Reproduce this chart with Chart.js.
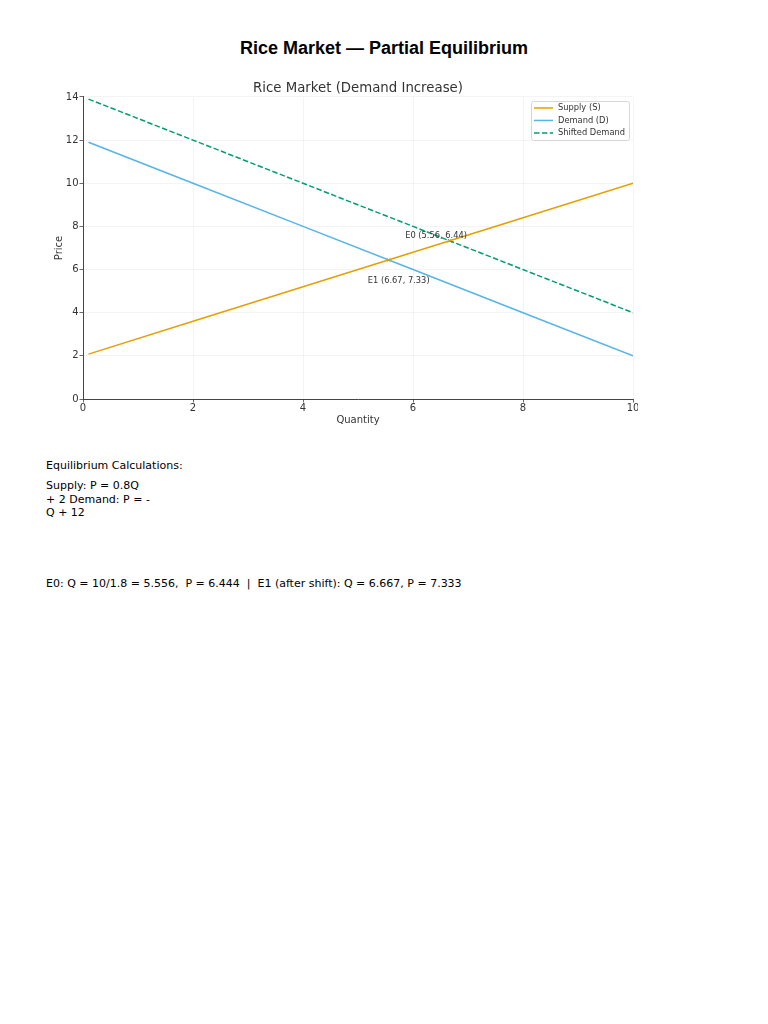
<!DOCTYPE html>
<html>
<head>
<meta charset="utf-8">
<script src="https://cdn.jsdelivr.net/npm/chart.js@4.4.0/dist/chart.umd.min.js"></script>
<style>
  html, body { margin: 0; padding: 0; background: #fff; }
  body { width: 768px; height: 1024px; position: relative; font-family: "DejaVu Sans", sans-serif; }
  #title { position: absolute; left: 0; top: 37px; width: 768px; text-align: center;
           font: bold 18px "Liberation Sans", Arial, sans-serif; color: #000; line-height: 22px; }
  #wrap { position: absolute; left: 40px; top: 70px; width: 598px; height: 365px; }
  .txt { position: absolute; left: 46px; font-size: 11px; color: #000; line-height: 13.5px; white-space: pre; }
</style>
</head>
<body>
<div id="title">Rice Market — Partial Equilibrium</div>
<div id="wrap"><canvas id="c"></canvas></div>
<div class="txt" style="top:459px">Equilibrium Calculations:</div>
<div class="txt" style="top:479px">Supply: P = 0.8Q
+ 2 Demand: P = -
Q + 12</div>
<div class="txt" style="top:577px">E0: Q = 10/1.8 = 5.556,  P = 6.444  |  E1 (after shift): Q = 6.667, P = 7.333</div>

<script>
// ---- data ----
const quantity = [0.1, 2, 4, 6, 8, 10];
const supply   = [2.08, 3.6, 5.2, 6.8, 8.4, 10];
const demand   = [11.9, 10, 8, 6, 4, 2];
const shifted  = [13.9, 12, 10, 8, 6, 4];

const eqQ = [5.556, 6.667];
const eqP = [6.444, 7.333];
const eqLabels = ['E0 (5.56, 6.44)', 'E1 (6.67, 7.33)'];
const eqLabelQ = [6.42, 5.74];
const eqLabelP = [7.56, 5.47];

const xTicks = [0, 2, 4, 6, 8, 10];
const yTicks = [0, 2, 4, 6, 8, 10, 12, 14];

const seriesNames = ['Supply (S)', 'Demand (D)', 'Shifted Demand'];

const pts = (ys) => quantity.map((q, i) => ({ x: q, y: ys[i] }));

const FONT = '"DejaVu Sans", sans-serif';
const TXT = '#333333';

const annotPlugin = {
  id: 'annot',
  afterDatasetsDraw(chart) {
    const { ctx, scales: { x, y }, chartArea } = chart;
    ctx.save();
    // annotations
    ctx.font = '8.3px ' + FONT;
    ctx.fillStyle = TXT;
    ctx.textAlign = 'center';
    ctx.textBaseline = 'middle';
    eqLabels.forEach((t, i) => {
      ctx.fillText(t, x.getPixelForValue(eqLabelQ[i]), y.getPixelForValue(eqLabelP[i]));
    });
    // legend
    const bw = 98, bh = 39;
    const bx = chartArea.right - 4 - bw, by = chartArea.top + 4;
    ctx.beginPath();
    if (ctx.roundRect) ctx.roundRect(bx + 0.5, by + 0.5, bw, bh, 2); else ctx.rect(bx + 0.5, by + 0.5, bw, bh);
    ctx.fillStyle = 'rgba(255,255,255,0.8)';
    ctx.fill();
    ctx.strokeStyle = '#d6d6d6';
    ctx.lineWidth = 1;
    ctx.stroke();
    ctx.textAlign = 'left';
    const rows = [7, 19.5, 32];
    for (let i = 0; i < 3; i++) {
      const ds = chart.data.datasets[i];
      const ry = by + rows[i];
      ctx.beginPath();
      ctx.setLineDash(ds.borderDash || []);
      ctx.strokeStyle = ds.borderColor;
      ctx.lineWidth = 1.5;
      ctx.moveTo(bx + 3, ry);
      ctx.lineTo(bx + 22, ry);
      ctx.stroke();
      ctx.setLineDash([]);
      ctx.fillStyle = TXT;
      ctx.fillText(ds.label, bx + 27, ry);
    }
    ctx.restore();
  }
};

new Chart(document.getElementById('c'), {
  type: 'line',
  data: {
    datasets: [
      { label: seriesNames[0], data: pts(supply), borderColor: '#E69F00', borderWidth: 1.5, pointRadius: 0, fill: false, tension: 0 },
      { label: seriesNames[1], data: pts(demand), borderColor: '#56B4E9', borderWidth: 1.5, pointRadius: 0, fill: false, tension: 0 },
      { label: seriesNames[2], data: pts(shifted), borderColor: '#009E73', borderDash: [5.5, 2.4], borderWidth: 1.5, pointRadius: 0, fill: false, tension: 0 },
      { label: 'eq', type: 'scatter', data: eqQ.map((q, i) => ({ x: q, y: eqP[i] })),
        pointStyle: 'crossRot', pointRadius: 2.5, borderWidth: 1, borderColor: ['#C9A21A', '#3a9c6e'], backgroundColor: 'transparent', showLine: false }
    ]
  },
  options: {
    responsive: true,
    maintainAspectRatio: false,
    animation: false,
    events: [],
    layout: { padding: { left: 0, right: 5, top: 0, bottom: 0 } },
    plugins: {
      legend: { display: false },
      tooltip: { enabled: false },
      title: {
        display: true, fullSize: false, text: 'Rice Market (Demand Increase)', color: TXT,
        font: { family: FONT, size: 13.3, weight: 'normal' },
        padding: { top: 11, bottom: 0 }
      }
    },
    scales: {
      x: {
        type: 'linear', min: 0, max: 10,
        afterBuildTicks(s) { s.ticks = xTicks.map(v => ({ value: v })); },
        ticks: { color: TXT, font: { family: FONT, size: 10 }, padding: 0, maxRotation: 0, autoSkip: false },
        grid: { color: 'rgba(0,0,0,0.055)', tickColor: '#444', tickLength: 3.5, lineWidth: 0.8 },
        border: { color: '#444', width: 1 },
        title: { display: true, text: 'Quantity', color: TXT, font: { family: FONT, size: 10 }, padding: { top: 0, bottom: 9 } },
        afterFit(s) { s.height = 36; s.paddingLeft = 0; s.paddingRight = 0; }
      },
      y: {
        type: 'linear', min: 0, max: 14,
        afterBuildTicks(s) { s.ticks = yTicks.map(v => ({ value: v })); },
        ticks: { color: TXT, font: { family: FONT, size: 10 }, padding: 1 },
        grid: { color: 'rgba(0,0,0,0.055)', tickColor: '#444', tickLength: 3.5, lineWidth: 0.8 },
        border: { color: '#444', width: 1 },
        title: { display: true, text: 'Price', color: TXT, font: { family: FONT, size: 10 }, padding: { top: 13, bottom: 0 } },
        afterFit(s) { s.width = 43; s.paddingTop = 0; s.paddingBottom = 0; }
      }
    }
  },
  plugins: [annotPlugin]
});
</script>
</body>
</html>
